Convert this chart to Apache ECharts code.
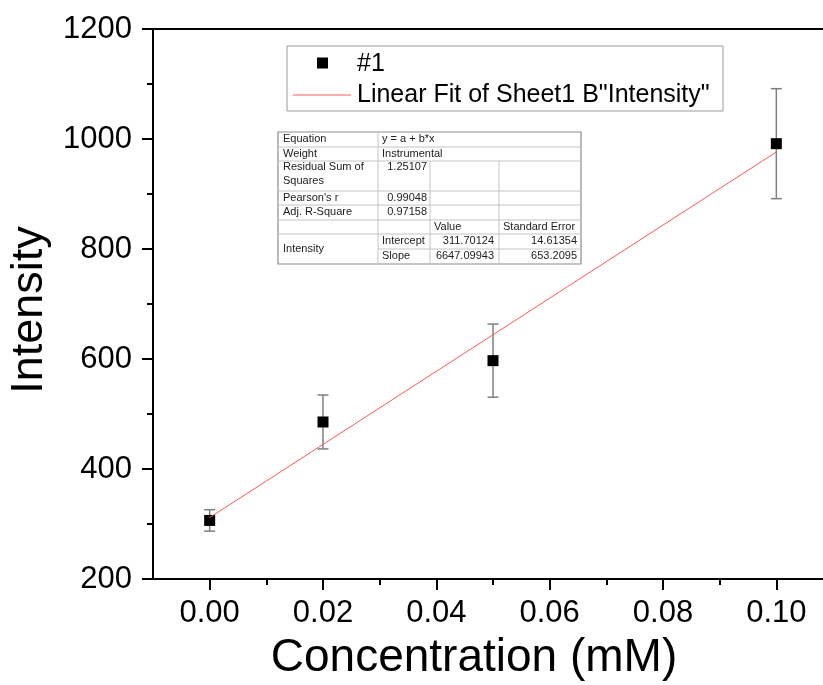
<!DOCTYPE html>
<html>
<head>
<meta charset="utf-8">
<script src="https://cdn.jsdelivr.net/npm/echarts@6/dist/echarts.min.js"></script>
<style>
  html, body { margin: 0; padding: 0; background: #fff; }
  #chart { width: 823px; height: 685px; }
</style>
</head>
<body>
<div id="chart"></div>
<script>
// Measured intensity vs. concentration, with standard deviations
const concentration = [0, 0.02, 0.05, 0.10];
const intensity = [306.5, 485.5, 597, 991.5];
const intensityErr = [19.5, 49, 66.5, 100];

// Linear fit parameters (y = a + b*x)
const fitIntercept = 311.70124;
const fitSlope = 6647.09943;
const fitInterceptErr = 14.61354;
const fitSlopeErr = 653.2095;
const fitRange = [0, 0.10];

// Fit statistics table
const statLabels = ['Equation', 'Weight', 'Residual Sum of', "Pearson's r", 'Adj. R-Square'];
const statValues = ['y = a + b*x', 'Instrumental', '1.25107', '0.99048', '0.97158'];
const paramHeader = ['Value', 'Standard Error'];
const paramNames = ['Intercept', 'Slope'];

// Axis ticks
const xMajorTicks = [0, 0.02, 0.04, 0.06, 0.08, 0.10];
const xMinorTicks = [0.01, 0.03, 0.05, 0.07, 0.09];

const FONT = '"Liberation Sans", Arial, sans-serif';

const chart = echarts.init(document.getElementById('chart'), null, { renderer: 'canvas' });

const gridRect = { left: 153, top: 29, width: 680, height: 550, containLabel: false, outerBoundsMode: 'none' };

// ---- table drawing ----
const colX = [278, 378, 430, 499, 581];
const rowY = [132, 147, 161, 191, 205, 220, 234, 249, 264];
const tableFont = '11px ' + FONT;
const tableEls = [];
tableEls.push({ type: 'rect', shape: { x: colX[0], y: rowY[0], width: colX[4] - colX[0], height: rowY[8] - rowY[0] },
  style: { fill: '#fff', stroke: '#8c8c8c', lineWidth: 1.2 }, z: 100 });
function hLine(y, x1, x2) {
  tableEls.push({ type: 'line', shape: { x1: x1, y1: y, x2: x2, y2: y }, style: { stroke: '#c4c4c4', lineWidth: 1 }, z: 101 });
}
function vLine(x, y1, y2) {
  tableEls.push({ type: 'line', shape: { x1: x, y1: y1, x2: x, y2: y2 }, style: { stroke: '#c4c4c4', lineWidth: 1 }, z: 101 });
}
function cellText(text, x, y, align) {
  tableEls.push({ type: 'text', x: x, y: y, z: 102,
    style: { text: text, font: tableFont, fill: '#222', align: align || 'left', verticalAlign: 'middle' } });
}
for (let i = 1; i <= 6; i++) hLine(rowY[i], colX[0], colX[4]);
hLine(rowY[7], colX[1], colX[4]);
vLine(colX[1], rowY[0], rowY[8]);
vLine(colX[2], rowY[2], rowY[8]);
vLine(colX[3], rowY[2], rowY[8]);

// left labels
cellText(statLabels[0], 283, 139);
cellText(statLabels[1], 283, 153.5);
cellText(statLabels[2], 283, 167);
cellText('Squares', 283, 181);
cellText(statLabels[3], 283, 197.5);
cellText(statLabels[4], 283, 212);
cellText('Intensity', 283, 249);
// values
cellText(statValues[0], 382, 139);
cellText(statValues[1], 382, 153.5);
cellText(statValues[2], 427, 167, 'right');
cellText(statValues[3], 427, 197.5, 'right');
cellText(statValues[4], 427, 212, 'right');
cellText(paramHeader[0], 434, 226.5);
cellText(paramHeader[1], 503, 226.5);
cellText(paramNames[0], 382, 241);
cellText(paramNames[1], 382, 256);
cellText(String(fitIntercept), 494, 241, 'right');
cellText(String(fitSlope), 494, 256, 'right');
cellText(String(fitInterceptErr), 577, 241, 'right');
cellText(String(fitSlopeErr), 577, 256, 'right');

// ---- legend drawing ----
const legendEls = [
  { type: 'rect', shape: { x: 287, y: 46, width: 436, height: 65 }, style: { fill: '#fff', stroke: '#9a9a9a', lineWidth: 1 }, z: 100 },
  { type: 'rect', shape: { x: 317, y: 57.5, width: 11, height: 11 }, style: { fill: '#000' }, z: 101 },
  { type: 'line', shape: { x1: 293, y1: 95, x2: 351, y2: 95 }, style: { stroke: '#ff5a5a', lineWidth: 1 }, z: 101 },
  { type: 'text', x: 357, y: 64, z: 101, style: { text: '#1', font: '25px ' + FONT, fill: '#000', verticalAlign: 'middle' } },
  { type: 'text', x: 357, y: 95, z: 101, style: { text: 'Linear Fit of Sheet1 B"Intensity"', font: '25px ' + FONT, fill: '#000', verticalAlign: 'middle' } }
];

const errData = concentration.map((c, i) => [c, intensity[i], intensityErr[i]]);
const pointData = concentration.map((c, i) => [c, intensity[i]]);
const fitData = fitRange.map(x => [x, fitIntercept + fitSlope * x]);

const axisLineStyle = { color: '#000', width: 2 };

const option = {
  animation: false,
  backgroundColor: '#fff',
  grid: [
    Object.assign({}, gridRect),
    Object.assign({}, gridRect)
  ],
  xAxis: [
    {
      type: 'value', gridIndex: 0, position: 'bottom', min: -0.01, max: 0.11,
      name: 'Concentration (mM)', nameLocation: 'middle', nameGap: 56,
      nameTextStyle: { fontFamily: FONT, fontSize: 46, color: '#000', padding: [0, 38, 0, 0] },
      axisLine: { show: true, onZero: false, lineStyle: axisLineStyle },
      axisTick: { show: true, inside: false, length: 11, lineStyle: { color: '#000', width: 2 }, customValues: xMajorTicks },
      axisLabel: { show: true, customValues: xMajorTicks, margin: 19, fontFamily: FONT, fontSize: 31, color: '#000',
        formatter: v => v.toFixed(2) },
      splitLine: { show: false }
    },
    {
      type: 'value', gridIndex: 0, position: 'top', min: -0.01, max: 0.11,
      axisLine: { show: true, onZero: false, lineStyle: axisLineStyle },
      axisTick: { show: false }, axisLabel: { show: false }, splitLine: { show: false }
    },
    {
      type: 'value', gridIndex: 1, position: 'bottom', min: -0.01, max: 0.11,
      axisLine: { show: false, onZero: false },
      axisTick: { show: true, inside: false, length: 6, lineStyle: { color: '#000', width: 2 }, customValues: xMinorTicks },
      axisLabel: { show: false }, splitLine: { show: false }
    }
  ],
  yAxis: [
    {
      type: 'value', gridIndex: 0, min: 200, max: 1200, interval: 200,
      name: 'Intensity', nameLocation: 'middle', nameGap: 96,
      nameTextStyle: { fontFamily: FONT, fontSize: 45, color: '#000', padding: [0, 12, 0, 0] },
      axisLine: { show: true, onZero: false, lineStyle: axisLineStyle },
      axisTick: { show: true, inside: false, length: 11, lineStyle: { color: '#000', width: 2 } },
      minorTick: { show: true, splitNumber: 2, length: 6, lineStyle: { color: '#000', width: 2 } },
      axisLabel: { margin: 21, fontFamily: FONT, fontSize: 31, color: '#000', formatter: v => String(v) },
      splitLine: { show: false }
    },
    {
      type: 'value', gridIndex: 1, min: 200, max: 1200, show: false
    }
  ],
  series: [
    {
      type: 'custom', name: 'error', xAxisIndex: 0, yAxisIndex: 0, z: 2,
      data: errData,
      renderItem: function (params, api) {
        const x = api.value(0), y = api.value(1), e = api.value(2);
        const top = api.coord([x, y + e]);
        const bot = api.coord([x, y - e]);
        const hw = 5.5;
        const style = { stroke: '#808080', lineWidth: 1.5 };
        return {
          type: 'group',
          children: [
            { type: 'line', shape: { x1: top[0], y1: top[1], x2: bot[0], y2: bot[1] }, style: style },
            { type: 'line', shape: { x1: top[0] - hw, y1: top[1], x2: top[0] + hw, y2: top[1] }, style: style },
            { type: 'line', shape: { x1: bot[0] - hw, y1: bot[1], x2: bot[0] + hw, y2: bot[1] }, style: style }
          ]
        };
      }
    },
    {
      type: 'scatter', name: '#1', xAxisIndex: 0, yAxisIndex: 0, z: 3,
      symbol: 'rect', symbolSize: 11,
      itemStyle: { color: '#000', opacity: 1 },
      data: pointData
    },
    {
      type: 'line', name: 'Linear Fit of Sheet1 B"Intensity"', xAxisIndex: 0, yAxisIndex: 0, z: 4,
      symbol: 'none',
      lineStyle: { color: '#ff5a5a', width: 1 },
      data: fitData
    }
  ],
  graphic: legendEls.concat(tableEls)
};

chart.setOption(option);
</script>
</body>
</html>
